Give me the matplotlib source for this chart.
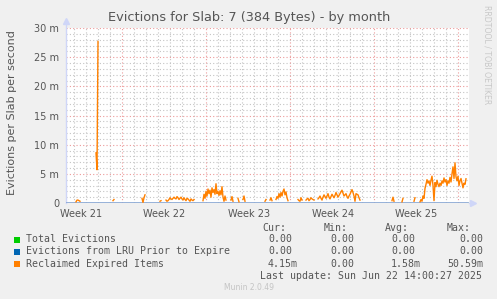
import numpy as np
import matplotlib
matplotlib.use("Agg")
import matplotlib.pyplot as plt
from matplotlib.patches import Rectangle

# ---------------- data ----------------
title = "Evictions for Slab: 7 (384 Bytes) - by month"
ylabel = "Evictions per Slab per second"
steps_per_day = 12          # 2-hour consolidated samples
n_steps = 403               # samples across the window
week_starts = [4.667, 11.667, 18.667, 25.667, 32.667]   # days since window start
week_labels = ["Week 21", "Week 22", "Week 23", "Week 24", "Week 25"]
y_ticks = [0, 5, 10, 15, 20, 25, 30]
y_tick_labels = ["0", "5 m", "10 m", "15 m", "20 m", "25 m", "30 m"]

# Reclaimed expired items (milli per second): (first sample index, values)
reclaimed_segments = [
    (10, [0.2, 0.5, 0.5, 0.4, 0.3]),
    (30, [8.6, 5.7, 27.7]),
    (47, [0.4, 0.6]),
    (76, [0.8, 0.1, 0.9, 1.4]),
    (94, [0.3, 0.4]),
    (100, [0.5, 0.3, 0.4, 0.6, 0.9, 0.7, 0.6, 0.8, 1.0, 0.8, 0.7, 1.1, 0.9, 0.6, 0.8,
           1.0, 0.7, 0.5, 0.9, 0.6, 0.4, 0.8, 0.7, 0.5, 0.3, 0.7, 0.5, 0.4, 0.6]),
    (137, [0.4, 1.5, 0.8, 2.0, 1.2, 2.4, 1.6, 2.2, 1.0, 2.6, 1.8, 2.3, 1.5, 3.3, 1.6,
           2.0, 1.3, 2.1, 1.4, 2.8, 1.0, 0.3, 1.2, 0.5]),
    (165, [0.5, 1.1, 0.3]),
    (172, [0.8, 0.2]),
    (177, [0.6, 1.2, 0.3]),
    (199, [0.3, 0.6]),
    (204, [0.5, 0.9, 0.4]),
    (210, [0.6, 1.1, 0.8, 1.6, 1.0, 1.8, 1.2, 2.0, 2.4, 1.4, 1.9, 0.9, 0.4]),
    (232, [0.6, 0.4, 0.3, 0.9, 0.5]),
    (240, [0.5, 0.7, 0.8, 0.4, 0.6, 0.9, 0.7, 0.6, 0.5]),
    (252, [0.7, 0.9, 1.2, 0.8, 0.5, 1.0, 1.4, 1.1, 0.8, 1.2, 1.6, 1.0, 0.7, 1.1, 1.5,
           1.2, 0.9, 1.3, 1.8, 1.4, 1.0, 1.3, 1.6, 1.9, 2.2, 1.7, 1.2, 1.4, 1.6, 1.1,
           0.8, 1.2, 1.5, 1.9, 2.3, 1.8, 1.2, 0.3, 1.6, 1.5, 1.4, 0.9, 0.5]),
    (326, [0.4, 1.0, 0.3]),
    (336, [0.2, 0.8]),
    (348, [0.3, 0.9]),
    (354, [0.2, 0.6, 0.3, 1.2, 0.8, 2.5, 3.2, 4.0, 3.4, 3.8,
           3.0, 3.9, 4.6, 3.0, 0.4, 3.5, 2.8, 3.9, 3.2, 2.8,
           3.4, 3.0, 3.8, 3.4, 4.3, 3.6, 4.0, 3.0, 3.8, 3.4,
           4.4, 3.6, 5.0, 6.2, 4.2, 6.9, 4.5, 3.8, 4.6, 3.0,
           3.8, 4.2, 3.4, 2.6, 3.4, 3.2, 4.15]),
]
total_evictions = [0.0] * n_steps
lru_evictions = [0.0] * n_steps

legend_names = ["Total Evictions", "Evictions from LRU Prior to Expire", "Reclaimed Expired Items"]
legend_colors = ["#00CC00", "#0066B3", "#FF8000"]
stat_cur = ["0.00", "0.00", "4.15m"]
stat_min = ["0.00", "0.00", "0.00"]
stat_avg = ["0.00", "0.00", "1.58m"]
stat_max = ["0.00", "0.00", "50.59m"]
last_update = "Last update: Sun Jun 22 14:00:27 2025"
footer = "Munin 2.0.49"
side_text = "RRDTOOL / TOBI OETIKER"

# ---------------- build series ----------------
t = np.arange(n_steps) / steps_per_day
reclaimed = np.full(n_steps, np.nan)
for start, vals in reclaimed_segments:
    reclaimed[start:start + len(vals)] = vals

# ---------------- figure ----------------
W, H = 497, 299
fig = plt.figure(figsize=(W / 100, H / 100), dpi=100, facecolor="#F0F0F0")
L, R, T, B = 66, 469, 28, 203
ax = fig.add_axes([L / W, 1 - B / H, (R - L) / W, (B - T) / H])
ax.set_facecolor("white")
xmax = n_steps / steps_per_day
ax.set_xlim(0, xmax)
ax.set_ylim(0, 30)

txt = "#555555"
minor_c = "#C4C4C4"
major_c = "#EC9A9A"
dot = (0, (1, 2))
for d in np.arange(week_starts[0] - 4, xmax, 1.0):
    if d > 0.01 and all(abs(d - w) > 0.01 for w in week_starts):
        ax.axvline(d, color=minor_c, lw=0.8, ls=dot, zorder=1)
for yv in range(1, 31):
    if yv % 5:
        ax.axhline(yv, color=minor_c, lw=0.8, ls=dot, zorder=1)
for w in week_starts:
    ax.axvline(w, color=major_c, lw=0.8, ls=dot, zorder=2)
for yv in y_ticks[1:]:
    ax.axhline(yv, color=major_c, lw=0.8, ls=dot, zorder=2)

ax.plot(t, total_evictions, color=legend_colors[0], lw=1, zorder=3)
ax.plot(t, lru_evictions, color="#8FA6DC", lw=1.2, zorder=4)
ax.plot(t, reclaimed, color=legend_colors[2], lw=1, zorder=5)

for s in ["top", "right", "bottom"]:
    ax.spines[s].set_visible(False)
ax.spines["left"].set_color("#CFD6F8")
ax.spines["left"].set_linewidth(1)
ax.spines["left"].set_bounds(0, 31.0)
ax.plot([0], [31.2], marker="^", ms=5, color="#CFD6F8", clip_on=False, zorder=6)
ax.plot([xmax, xmax + 0.35], [0, 0], color="#CFD6F8", lw=1, clip_on=False, zorder=3)
ax.plot([xmax + 0.35], [0], marker=">", ms=5, color="#CFD6F8", clip_on=False, zorder=6)

ax.set_yticks(y_ticks)
ax.set_yticklabels(y_tick_labels)
ax.set_xticks([w - 3.45 for w in week_starts])
ax.set_xticklabels(week_labels)
ax.tick_params(axis="both", length=0, labelsize=7, colors=txt, pad=5)
ax.tick_params(axis="x", pad=4)

def px(x, y):
    return x / W, 1 - y / H

fig.text(*px(249, 18), title, ha="center", va="center", fontsize=9.3, color=txt)
fig.text(*px(12, 113), ylabel, ha="center", va="center", rotation=90, fontsize=8.0, color=txt)
fig.text(*px(487, 5), side_text, ha="center", va="top", rotation=270, fontsize=5.6, color="#C8C8C8")

mono = dict(family="DejaVu Sans Mono", fontsize=7.1, color=txt, va="center")
fig.text(*px(262, 228), "Cur:", **mono)
fig.text(*px(324, 228), "Min:", **mono)
fig.text(*px(385, 228), "Avg:", **mono)
fig.text(*px(447, 228), "Max:", **mono)
rows_y = [239.5, 251.5, 263.7]
for i, yv in enumerate(rows_y):
    fig.patches.append(Rectangle(px(14, yv + 3), 6 / W, 6 / H, transform=fig.transFigure,
                                 facecolor=legend_colors[i], edgecolor="none"))
    fig.text(*px(26.5, yv), legend_names[i], **mono)
    fig.text(*px(268, yv), stat_cur[i], **mono)
    fig.text(*px(330, yv), stat_min[i], **mono)
    fig.text(*px(391, yv), stat_avg[i], **mono)
    mx = stat_max[i]
    fig.text(*px(447 + (6 - len(mx)) * 5.94, yv), mx, **mono)
fig.text(*px(482, 275.7), last_update, ha="right", **mono)
fig.text(*px(249, 288), footer, ha="center", va="center", fontsize=5.5, color="#C4C4C4")

fig.savefig("out.png", dpi=100, facecolor=fig.get_facecolor())
